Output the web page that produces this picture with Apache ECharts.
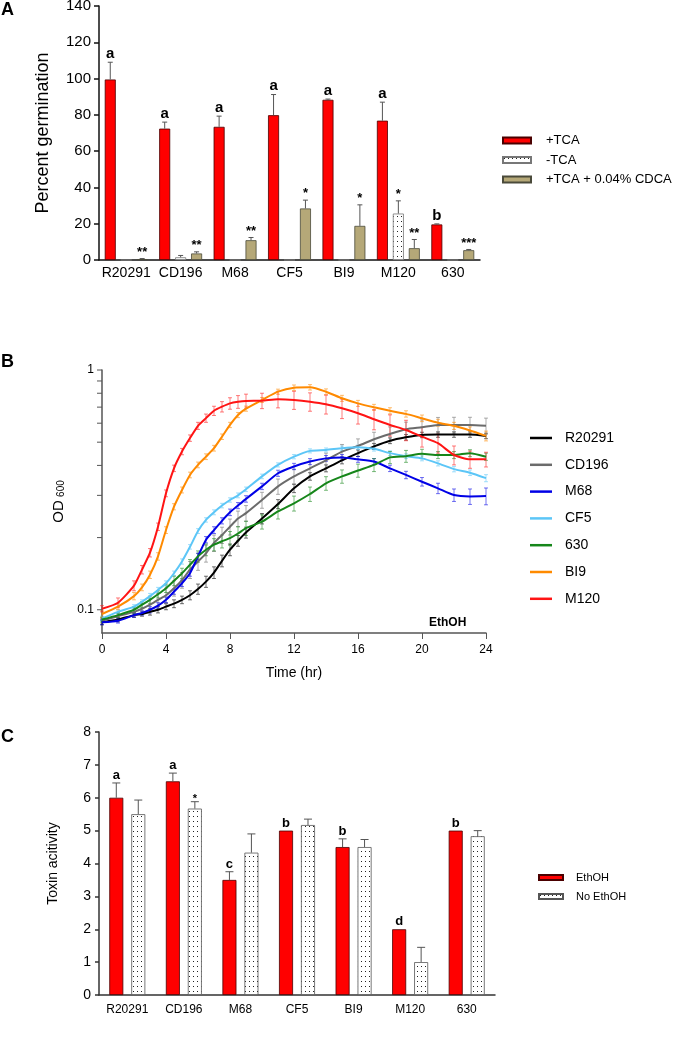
<!DOCTYPE html>
<html><head><meta charset="utf-8">
<script src="https://cdn.jsdelivr.net/npm/echarts@6/dist/echarts.min.js"></script>
<style>html,body{margin:0;padding:0;background:#fff}#c{width:691px;height:1050px}</style>
</head><body><div id="c"></div>
<script>
// ---------- Panel A data ----------
const strainsA = ['R20291','CD196','M68','CF5','BI9','M120','630'];
const namesA = ['+TCA','-TCA','+TCA + 0.04% CDCA'];
const tcaPlus    = [99.5, 72.4, 73.4, 79.8, 88.3, 76.8, 19.6];
const tcaPlusErr = [9.5, 3.6, 5.9, 11.4, 0.4, 10.2, 0.3];
const tcaMinus    = [0, 1.5, 0, 0, 0, 25.6, 0];
const tcaMinusErr = [0, 1.0, 0, 0, 0, 7.0, 0];
const cdca    = [0.5, 3.6, 10.9, 28.4, 18.8, 6.5, 5.4];
const cdcaErr = [0.3, 0.9, 1.5, 4.6, 11.6, 4.8, 0.4];
const annTcaPlus  = ['a','a','a','a','a','a','b'];
const annTcaMinus = ['','','','','','*',''];
const annCdca     = ['**','**','**','*','*','**','***'];

// ---------- Panel B data ----------
const timeB = [0,1,2,2.5,3,3.5,4,4.5,5,5.5,6,6.5,7,7.5,8,8.5,9,10,11,12,13,14,15,16,17,18,19,20,21,22,23,24];
const strainsB = ['R20291','CD196','M68','CF5','630','BI9','M120'];
const odR20291 = [0.0886,0.091,0.095,0.096,0.098,0.1,0.103,0.106,0.11,0.115,0.122,0.131,0.143,0.16,0.178,0.194,0.21,0.24,0.276,0.321,0.36,0.389,0.42,0.45,0.48,0.507,0.524,0.536,0.538,0.538,0.538,0.531];
const odCD196  = [0.09,0.094,0.098,0.101,0.105,0.11,0.115,0.123,0.133,0.147,0.159,0.172,0.19,0.205,0.222,0.24,0.253,0.287,0.327,0.36,0.389,0.42,0.457,0.482,0.514,0.541,0.566,0.577,0.59,0.59,0.59,0.585];
const odM68    = [0.0886,0.09,0.095,0.097,0.1,0.104,0.11,0.119,0.129,0.142,0.167,0.196,0.215,0.235,0.255,0.272,0.29,0.327,0.371,0.396,0.415,0.428,0.432,0.424,0.415,0.389,0.365,0.342,0.321,0.301,0.297,0.298];
const odCF5    = [0.092,0.098,0.103,0.108,0.114,0.121,0.129,0.142,0.159,0.183,0.213,0.237,0.255,0.272,0.287,0.3,0.318,0.36,0.402,0.435,0.46,0.464,0.472,0.476,0.469,0.45,0.437,0.428,0.408,0.386,0.373,0.354];
const od630    = [0.091,0.095,0.1,0.105,0.11,0.116,0.123,0.132,0.142,0.154,0.167,0.178,0.187,0.193,0.199,0.208,0.219,0.233,0.257,0.278,0.304,0.337,0.36,0.381,0.402,0.432,0.437,0.447,0.442,0.442,0.45,0.435];
const odBI9    = [0.096,0.103,0.114,0.124,0.14,0.167,0.215,0.269,0.316,0.365,0.402,0.435,0.472,0.527,0.59,0.649,0.69,0.75,0.812,0.844,0.847,0.812,0.762,0.726,0.699,0.676,0.656,0.629,0.603,0.585,0.559,0.531];
const odM120   = [0.101,0.107,0.126,0.147,0.173,0.222,0.306,0.389,0.457,0.52,0.585,0.63,0.676,0.703,0.726,0.737,0.743,0.745,0.755,0.75,0.738,0.72,0.692,0.66,0.623,0.59,0.562,0.527,0.495,0.442,0.424,0.424];
const errR20291 = [0.002,0.002,0.002,0.002,0.003,0.003,0.003,0.004,0.004,0.005,0.006,0.007,0.008,0.009,0.01,0.01,0.011,0.012,0.012,0.013,0.013,0.013,0.014,0.014,0.014,0.014,0.014,0.014,0.014,0.014,0.014,0.014];
const errCD196  = [0.002,0.003,0.004,0.005,0.006,0.007,0.008,0.009,0.01,0.012,0.013,0.014,0.015,0.016,0.017,0.018,0.019,0.022,0.024,0.026,0.028,0.03,0.032,0.034,0.036,0.038,0.04,0.042,0.044,0.045,0.045,0.045];
const errM68    = [0.002,0.002,0.002,0.002,0.003,0.003,0.003,0.003,0.004,0.004,0.005,0.006,0.007,0.007,0.008,0.008,0.009,0.01,0.011,0.012,0.012,0.012,0.012,0.012,0.012,0.012,0.013,0.014,0.016,0.018,0.022,0.024];
const errCF5    = [0.002,0.002,0.002,0.002,0.003,0.003,0.003,0.003,0.004,0.004,0.005,0.005,0.006,0.006,0.006,0.007,0.007,0.008,0.008,0.009,0.009,0.009,0.01,0.01,0.01,0.01,0.01,0.01,0.01,0.01,0.01,0.012];
const err630    = [0.002,0.002,0.003,0.003,0.004,0.004,0.005,0.006,0.007,0.008,0.009,0.01,0.011,0.012,0.013,0.014,0.015,0.016,0.018,0.02,0.021,0.022,0.023,0.024,0.025,0.025,0.025,0.02,0.015,0.015,0.015,0.015];
const errBI9    = [0.003,0.003,0.004,0.004,0.005,0.006,0.007,0.008,0.009,0.01,0.011,0.012,0.013,0.014,0.015,0.016,0.017,0.018,0.02,0.022,0.022,0.022,0.022,0.021,0.02,0.02,0.02,0.02,0.02,0.02,0.02,0.025];
const errM120   = [0.003,0.005,0.006,0.006,0.007,0.008,0.01,0.012,0.014,0.016,0.02,0.025,0.03,0.035,0.04,0.045,0.05,0.055,0.06,0.065,0.065,0.065,0.065,0.065,0.06,0.06,0.055,0.05,0.045,0.04,0.035,0.03];
const logTicksB = [0.1,0.2,0.3,0.4,0.5,0.6,0.7,0.8,0.9,1];

// ---------- Panel C data ----------
const strainsC = ['R20291','CD196','M68','CF5','BI9','M120','630'];
const namesC = ['EthOH','No EthOH'];
const ethoh      = [6, 6.5, 3.5, 5, 4.5, 2, 5];
const ethohErr   = [0.45, 0.25, 0.25, 0, 0.25, 0, 0];
const noEthoh    = [5.5, 5.67, 4.33, 5.17, 4.5, 1, 4.83];
const noEthohErr = [0.43, 0.21, 0.57, 0.18, 0.23, 0.45, 0.17];
const annEthoh   = ['a','a','c','b','b','d','b'];
const annNoEthoh = ['','*','','','','',''];

// ---------- styling ----------
const FONT = '"Liberation Sans", Arial, Helvetica, sans-serif';
const colorsB = ['#000000','#6b6b6b','#0000e6','#5cc6f7','#16861a','#ff8a00','#ff1414'];
const odB = [odR20291, odCD196, odM68, odCF5, od630, odBI9, odM120];
const errB = [errR20291, errCD196, errM68, errCF5, err630, errBI9, errM120];

function dotPattern(w, h) {
  const c = document.createElement('canvas'); c.width = w; c.height = h;
  const g = c.getContext('2d');
  g.fillStyle = '#ffffff'; g.fillRect(0, 0, w, h);
  g.fillStyle = '#222222'; g.fillRect(1, 1, 1, 1);
  return c;
}
const dotsA = { image: dotPattern(4, 5), repeat: 'repeat' };
const dotsC = { image: dotPattern(4, 5), repeat: 'repeat' };

function barErr(id, gi, vals, errs, anns, slot, nSlots, barW, gapRatio, cap, color, letterFont, starFont, starShift) {
  return {
    type: 'custom', name: id, xAxisIndex: gi, yAxisIndex: gi, z: 6, silent: true,
    data: vals.map((v, i) => [i, v, errs[i]]),
    renderItem(params, api) {
      const i = api.value(0), v = api.value(1), e = api.value(2);
      const ann = anns[params.dataIndex];
      const step = barW * (1 + gapRatio);
      const off = (slot - (nSlots - 1) / 2) * step;
      const base = api.coord([i, v]);
      const top = api.coord([i, v + e]);
      const x = base[0] + off;
      const ch = [];
      if (e > 0) {
        ch.push({ type: 'line', shape: { x1: x, y1: base[1], x2: x, y2: top[1] }, style: { stroke: color, lineWidth: 1 } });
        ch.push({ type: 'line', shape: { x1: x - cap / 2, y1: top[1], x2: x + cap / 2, y2: top[1] }, style: { stroke: color, lineWidth: 1 } });
      }
      if (ann) {
        const star = ann.indexOf('*') >= 0;
        const f = star ? starFont : letterFont;
        ch.push({ type: 'text', x: x, y: top[1] + (star ? starShift : -1),
          style: { text: ann, align: 'center', verticalAlign: 'bottom', fontSize: f, fontWeight: 'bold', fontFamily: FONT, fill: '#000' } });
      }
      return { type: 'group', children: ch };
    }
  };
}

const series = [];
// Panel A bars
const aVals = [tcaPlus, tcaMinus, cdca], aErrs = [tcaPlusErr, tcaMinusErr, cdcaErr], aAnns = [annTcaPlus, annTcaMinus, annCdca];
const aStyles = [
  { color: '#ff0000', borderColor: '#4a0000', borderWidth: 0.8 },
  { color: dotsA, borderColor: '#777777', borderWidth: 0.8 },
  { color: '#b5a878', borderColor: '#4a4a3a', borderWidth: 0.8 }
];
for (let k = 0; k < 3; k++) {
  series.push({ type: 'bar', name: namesA[k], xAxisIndex: 0, yAxisIndex: 0, data: aVals[k],
    barWidth: 11, barGap: '45%', itemStyle: aStyles[k], z: 3 });
}
for (let k = 0; k < 3; k++) {
  series.push(barErr('errA' + k, 0, aVals[k], aErrs[k], aAnns[k], k, 3, 11, 0.45, 5, '#555', 15, 13, 0));
}
// Panel B
for (let k = 0; k < 7; k++) {
  series.push({ type: 'custom', name: 'errB' + k, xAxisIndex: 1, yAxisIndex: 1, z: 2, silent: true,
    data: timeB.map((t, i) => [t, odB[k][i], errB[k][i]]),
    renderItem(params, api) {
      const t = api.value(0), v = api.value(1), e = api.value(2);
      const lo = api.coord([t, v - e]), hi = api.coord([t, v + e]);
      const st = { stroke: colorsB[k], lineWidth: 1, opacity: 0.55 };
      return { type: 'group', children: [
        { type: 'line', shape: { x1: lo[0], y1: lo[1], x2: hi[0], y2: hi[1] }, style: st },
        { type: 'line', shape: { x1: hi[0] - 2, y1: hi[1], x2: hi[0] + 2, y2: hi[1] }, style: st },
        { type: 'line', shape: { x1: lo[0] - 2, y1: lo[1], x2: lo[0] + 2, y2: lo[1] }, style: st }
      ] };
    }
  });
}
for (let k = 0; k < 7; k++) {
  series.push({ type: 'line', name: strainsB[k], xAxisIndex: 1, yAxisIndex: 1, z: 3,
    data: timeB.map((t, i) => [t, odB[k][i]]), showSymbol: false, symbol: 'none', smooth: 0.2,
    lineStyle: { width: 2, color: colorsB[k] }, itemStyle: { color: colorsB[k] } });
}
series.push({ type: 'custom', name: 'ticksB', xAxisIndex: 1, yAxisIndex: 1, z: 4, silent: true,
  data: logTicksB.map(v => [0, v]),
  renderItem(params, api) {
    const p = api.coord([0, api.value(1)]);
    return { type: 'line', shape: { x1: p[0] - 5, y1: p[1], x2: p[0], y2: p[1] }, style: { stroke: '#555', lineWidth: 1 } };
  }
});
// Panel C
series.push({ type: 'bar', name: namesC[0], xAxisIndex: 2, yAxisIndex: 2, data: ethoh, barWidth: 14, barGap: '57%',
  itemStyle: { color: '#ff0000', borderColor: '#4a0000', borderWidth: 0.8 }, z: 3 });
series.push({ type: 'bar', name: namesC[1], xAxisIndex: 2, yAxisIndex: 2, data: noEthoh, barWidth: 14, barGap: '57%',
  itemStyle: { color: dotsC, borderColor: '#555', borderWidth: 0.8 }, z: 3 });
series.push(barErr('errC0', 2, ethoh, ethohErr, annEthoh, 0, 2, 14, 0.57, 8, '#555', 13, 11, 3));
series.push(barErr('errC1', 2, noEthoh, noEthohErr, annNoEthoh, 1, 2, 14, 0.57, 8, '#555', 13, 11, 3));

const axisBlack = { lineStyle: { color: '#111', width: 1.5 } };
const option = {
  animation: false,
  backgroundColor: '#fff',
  textStyle: { fontFamily: FONT, color: '#000' },
  title: [
    { text: 'A', left: 1, top: 1, padding: 0, textStyle: { fontSize: 18, fontWeight: 'bold', color: '#000', fontFamily: FONT } },
    { text: 'B', left: 1, top: 353, padding: 0, textStyle: { fontSize: 18, fontWeight: 'bold', color: '#000', fontFamily: FONT } },
    { text: 'C', left: 1, top: 728, padding: 0, textStyle: { fontSize: 18, fontWeight: 'bold', color: '#000', fontFamily: FONT } },
    { text: 'EthOH', left: 429, top: 617, padding: 0, textStyle: { fontSize: 12, fontWeight: 'bold', color: '#000', fontFamily: FONT } }
  ],
  legend: [
    { data: namesA, orient: 'vertical', left: 502, top: 134, padding: 0, itemWidth: 28, itemHeight: 6, itemGap: 6.5, icon: 'rect',
      textStyle: { fontSize: 13, color: '#000', fontFamily: FONT, padding: [0, 0, 0, 10] } },
    { data: strainsB, orient: 'vertical', left: 530, top: 431, padding: 0, itemWidth: 22, itemHeight: 2.5, itemGap: 12.8, icon: 'rect',
      textStyle: { fontSize: 14, color: '#000', fontFamily: FONT, padding: [0, 0, 0, 8] } },
    { data: namesC, orient: 'vertical', left: 538, top: 872, padding: 0, itemWidth: 24, itemHeight: 5, itemGap: 8, icon: 'rect',
      textStyle: { fontSize: 11, color: '#000', fontFamily: FONT, padding: [0, 0, 0, 8] } }
  ],
  grid: [
    { left: 99, top: 6, width: 381, height: 254, containLabel: false, outerBoundsMode: 'none' },
    { left: 102, top: 370, width: 384, height: 263, containLabel: false, outerBoundsMode: 'none' },
    { left: 99, top: 732, width: 396, height: 263, containLabel: false, outerBoundsMode: 'none' }
  ],
  xAxis: [
    { gridIndex: 0, type: 'category', data: strainsA, axisLine: axisBlack,
      axisTick: { alignWithLabel: true, length: 5, lineStyle: { color: '#111', width: 1.5 } },
      axisLabel: { fontSize: 14, color: '#000', margin: 6, interval: 0 } },
    { gridIndex: 1, type: 'value', min: 0, max: 24, interval: 4,
      axisLine: { lineStyle: { color: '#555', width: 1.5 } },
      axisTick: { show: true, length: 6, lineStyle: { color: '#555', width: 1 } },
      axisLabel: { fontSize: 12, color: '#000', margin: 11 }, splitLine: { show: false },
      name: 'Time (hr)', nameLocation: 'middle', nameGap: 33, nameTextStyle: { fontSize: 14, color: '#000' } },
    { gridIndex: 2, type: 'category', data: strainsC, axisLine: { lineStyle: { color: '#333', width: 1.5 } },
      axisTick: { alignWithLabel: true, length: 4, lineStyle: { color: '#333', width: 1.5 } },
      axisLabel: { fontSize: 12, color: '#000', margin: 9, interval: 0 } }
  ],
  yAxis: [
    { gridIndex: 0, type: 'value', min: 0, max: 140, interval: 20,
      axisLine: { show: true, lineStyle: { color: '#111', width: 1.5 } },
      axisTick: { show: true, length: 5, lineStyle: { color: '#111', width: 1.5 } },
      axisLabel: { fontSize: 15, color: '#000', margin: 8 }, splitLine: { show: false },
      name: 'Percent germination', nameLocation: 'middle', nameGap: 47, nameTextStyle: { fontSize: 18, color: '#000' } },
    { gridIndex: 1, type: 'log', logBase: 10, min: 0.08, max: 1,
      axisLine: { show: true, lineStyle: { color: '#555', width: 1.5 } },
      axisTick: { show: false }, minorTick: { show: false },
      axisLabel: { fontSize: 12, color: '#000', margin: 8, showMinLabel: true,
        formatter: v => (Math.abs(v - 1) < 1e-6 ? '1' : (Math.abs(v - 0.1) < 1e-6 ? '0.1' : '')) },
      splitLine: { show: false },
      name: '{m|OD} {s|600}', nameLocation: 'middle', nameGap: 30,
      nameTextStyle: { color: '#000', rich: { m: { fontSize: 15, fontFamily: FONT, color: '#000' }, s: { fontSize: 10, fontFamily: FONT, color: '#000', verticalAlign: 'bottom' } } } },
    { gridIndex: 2, type: 'value', min: 0, max: 8, interval: 1,
      axisLine: { show: true, lineStyle: { color: '#333', width: 1.5 } },
      axisTick: { show: true, length: 4, lineStyle: { color: '#333', width: 1.5 } },
      axisLabel: { fontSize: 14, color: '#000', margin: 8 }, splitLine: { show: false },
      name: 'Toxin acitivity', nameLocation: 'middle', nameGap: 39, nameTextStyle: { fontSize: 14, color: '#000' } }
  ],
  series: series
};
const chart = echarts.init(document.getElementById('c'), null, { renderer: 'canvas', width: 691, height: 1050 });
chart.setOption(option);
</script>
</body></html>
